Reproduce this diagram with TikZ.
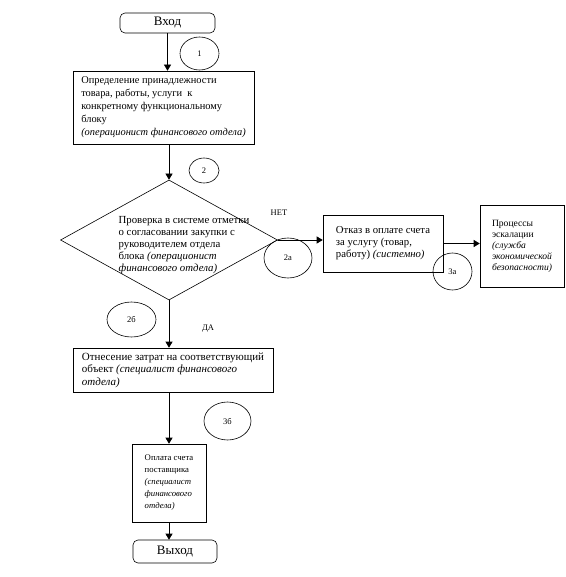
\documentclass[tikz,border=0pt]{standalone}
\usepackage{fontspec}
\setmainfont{Liberation Serif}
\usetikzlibrary{shapes.geometric,arrows.meta}

\begin{document}
\begin{tikzpicture}[x=1pt,y=-1pt]
        \tikzstyle{every node}=[inner sep=0pt, font=\fontsize{10}{12.5}\selectfont, text=black]
        \tikzstyle{terminal}=[rectangle, rounded corners=5pt, draw=black, line width=0.6pt, font=\fontsize{13}{15}\selectfont]
        \tikzstyle{block}=[rectangle, draw=black, line width=0.6pt, align=left]
        \tikzstyle{decision}=[diamond, draw=black, line width=0.6pt, minimum width=217pt, minimum height=120pt]
        \tikzstyle{tag}=[ellipse, draw=black, line width=0.6pt, font=\fontsize{8.5}{9}\selectfont]
        \tikzstyle{answer}=[font=\fontsize{8.5}{10}\selectfont]
        \tikzstyle{edge}=[black, line width=0.6pt, -{Triangle[length=6pt,width=7pt]}]

        \useasboundingbox (0,0) rectangle (565,577);

        \node[terminal, minimum width=95pt, minimum height=20pt] (start) at (167.5,23) {Вход};
        \node[block, minimum width=181pt, minimum height=73pt, font=\fontsize{10.4}{13}\selectfont] (define) at (163.5,107.5)
            {Определение принадлежности\\ товара, работы, услуги\ \ к\\ конкретному функциональному\\ блоку\\ \textit{(операционист финансового отдела)}};
        \node[decision] (check) at (169,240) {};
        \node[align=left, font=\fontsize{10.8}{12}\selectfont] (checktext) at (184,245)
            {Проверка в системе отметки\\ о согласовании закупки с\\ руководителем отдела\\ блока \textit{(операционист}\\ \textit{финансового отдела)}};
        \node[block, minimum width=120pt, minimum height=57pt, font=\fontsize{10.7}{12}\selectfont] (refuse) at (383,243.5)
            {Отказ в оплате счета\\ за услугу (товар,\\ работу) \textit{(системно)}};
        \node[block, minimum width=84pt, minimum height=82pt, font=\fontsize{9.6}{11}\selectfont] (escal) at (522,246)
            {Процессы\\ эскалации\\ \textit{(служба}\\ \textit{экономической}\\ \textit{безопасности)}};
        \node[block, minimum width=200pt, minimum height=44pt, font=\fontsize{11}{12.5}\selectfont] (assign) at (173,370)
            {Отнесение затрат на соответствующий\\ объект \textit{(специалист финансового}\\ \textit{отдела)}};
        \node[block, minimum width=74pt, minimum height=78pt, font=\fontsize{8.7}{12}\selectfont] (pay) at (169,483)
            {Оплата счета\\ поставщика\\ \textit{(специалист}\\ \textit{финансового}\\ \textit{отдела)}};
        \node[terminal, minimum width=84pt, minimum height=23pt] (finish) at (175,551.5) {Выход};

        \node[tag, minimum width=39pt, minimum height=33pt] (t1) at (199.5,53.5) {1};
        \node[tag, minimum width=30pt, minimum height=25pt] (t2) at (204,170.5) {2};
        \node[tag, minimum width=48pt, minimum height=40pt] (t2a) at (288,258) {2а};
        \node[tag, minimum width=39pt, minimum height=37pt] (t3a) at (452.5,271.5) {3а};
        \node[tag, minimum width=49pt, minimum height=35pt] (t2b) at (131.5,319.5) {2б};
        \node[tag, minimum width=47pt, minimum height=38pt] (t3b) at (227.5,421) {3б};

        \node[answer] (no) at (279,213) {НЕТ};
        \node[answer] (yes) at (208,329) {ДА};

        \draw[edge] (start) -- (start |- define.north);
        \draw[edge] (check.north |- define.south) -- (check.north);
        \draw[edge] (check.east) -- (check.east -| refuse.west);
        \draw[edge] (refuse.east) -- (refuse.east -| escal.west);
        \draw[edge] (check.south) -- (check.south |- assign.north);
        \draw[edge] (assign.south -| pay.north) -- (pay.north);
        \draw[edge] (pay.south) -- (pay.south |- finish.north);
    \end{tikzpicture}
\end{document}
